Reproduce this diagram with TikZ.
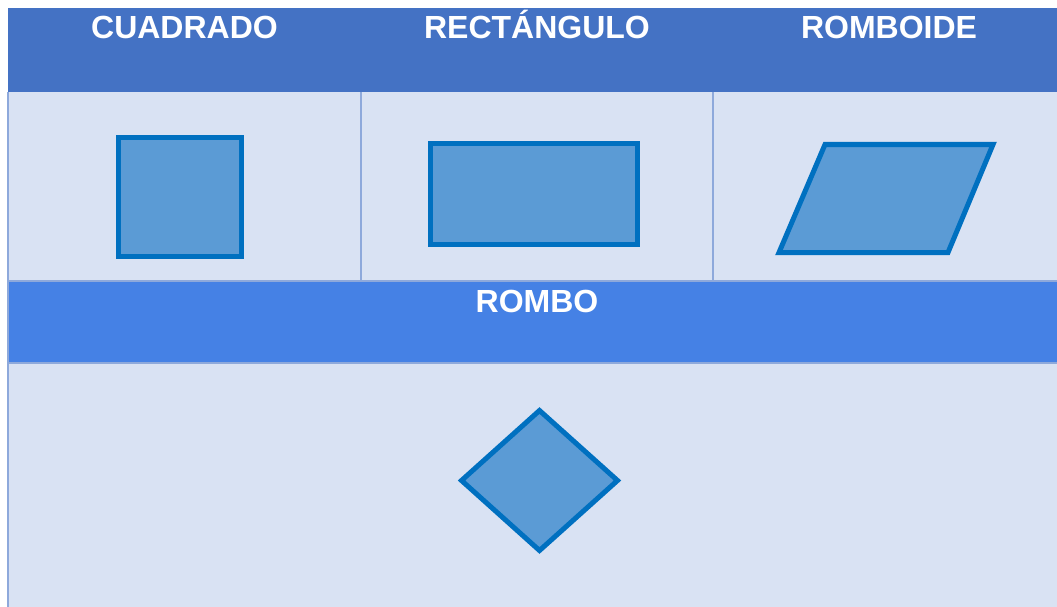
\documentclass[tikz,border=0pt]{standalone}
\usepackage{fontspec}
\setmainfont{Liberation Sans}
\usepackage{tikz}
\usetikzlibrary{positioning}
\definecolor{cabecera}{HTML}{4472C4}
\definecolor{cabeceraB}{HTML}{4581E5}
\definecolor{celda}{HTML}{D9E2F3}
\definecolor{borde}{HTML}{8EA9DB}
\definecolor{trazo}{HTML}{0070C0}
\definecolor{relleno}{HTML}{5B9BD5}
\tikzstyle{titulo} = [text=white, font=\fontsize{32}{32}\selectfont\bfseries, anchor=base]
\tikzstyle{figura} = [draw=trazo, fill=relleno, line width=5pt, line join=miter]
\tikzstyle{linea} = [draw=borde, line width=2pt]

\begin{document}
\begin{tikzpicture}[x=1pt,y=-1pt]
    \useasboundingbox (0,0) rectangle (1057,607);
    % fondos de la tabla
    \fill[cabecera] (8,8) rectangle (1057,92);
    \fill[celda] (8,92) rectangle (1057,281);
    \fill[cabeceraB] (8,281) rectangle (1057,363);
    \fill[celda] (8,363) rectangle (1057,607);
    \coordinate (a) at (8,92);
    \coordinate (b) at (8,607);
    \draw[linea] (a) -- (b)
        (361,92) -- (361,281)
        (713,92) -- (713,281)
        (8,281) -- (1057,281)
        (8,363) -- (1057,363);
    % titulos
    \node[titulo] (cuadrado) at (184.5,39) {CUADRADO};
    \node[titulo] (rectangulo) at (537,39) {RECTÁNGULO};
    \node[titulo] (romboide) at (889,39) {ROMBOIDE};
    \node[titulo] (rombo) at (537,312) {ROMBO};
    % figuras
    \draw[figura] (118.5,137.5) rectangle (241.5,256.5);
    \draw[figura] (430.5,143.5) rectangle (637.5,244.5);
    \draw[figura] (825,144.5) -- (993,144.5) -- (948,252.5) -- (779,252.5) -- cycle;
    \draw[figura] (539.5,410.5) -- (617.5,480.5) -- (539.5,550.5) -- (461.5,480.5) -- cycle;
\end{tikzpicture}
\end{document}
